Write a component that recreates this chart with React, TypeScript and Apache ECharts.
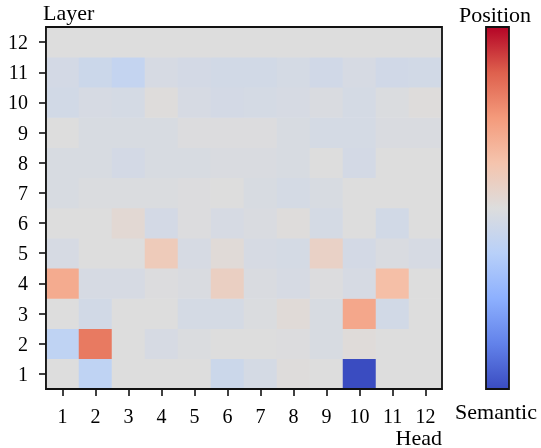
import React, { useEffect, useRef } from "react";
import * as echarts from "echarts";

const heads = ["1", "2", "3", "4", "5", "6", "7", "8", "9", "10", "11", "12"];
const layers = ["1", "2", "3", "4", "5", "6", "7", "8", "9", "10", "11", "12"];

// value per head (1..12) for each layer; negative = semantic, positive = position
const layer1 = [0.0, -0.2, 0.0, 0.0, 0.0, -0.12, -0.06, 0.01, 0.0, -1.0, 0.0, 0.0];
const layer2 = [-0.2, 0.64, 0.0, -0.05, -0.02, 0.0, 0.0, -0.01, -0.04, 0.02, 0.0, 0.0];
const layer3 = [0.0, -0.08, 0.0, 0.0, -0.06, -0.06, -0.02, 0.03, -0.04, 0.42, -0.08, 0.0];
const layer4 = [0.4, -0.05, -0.05, -0.01, -0.03, 0.14, -0.03, -0.05, -0.01, -0.05, 0.28, 0.0];
const layer5 = [-0.05, 0.0, 0.0, 0.18, -0.05, 0.03, -0.05, -0.06, 0.12, -0.07, -0.03, -0.05];
const layer6 = [0.0, 0.0, 0.05, -0.07, -0.01, -0.05, -0.03, 0.01, -0.06, 0.0, -0.08, 0.0];
const layer7 = [-0.04, -0.02, -0.02, -0.02, -0.01, 0.0, -0.04, -0.06, -0.04, 0.0, 0.0, 0.0];
const layer8 = [-0.04, -0.04, -0.07, -0.04, -0.04, -0.03, -0.03, -0.04, 0.0, -0.07, 0.0, 0.0];
const layer9 = [0.0, -0.04, -0.04, -0.04, -0.01, -0.01, -0.01, -0.04, -0.06, -0.06, -0.03, -0.03];
const layer10 = [-0.08, -0.05, -0.06, 0.01, -0.05, -0.07, -0.06, -0.05, -0.03, -0.06, -0.02, 0.01];
const layer11 = [-0.07, -0.12, -0.17, -0.05, -0.07, -0.08, -0.08, -0.06, -0.09, -0.05, -0.09, -0.08];
const layer12 = [0.0, 0.0, 0.0, 0.0, 0.0, 0.0, 0.0, 0.0, 0.0, 0.0, 0.0, 0.0];

const values = [layer1, layer2, layer3, layer4, layer5, layer6, layer7, layer8, layer9, layer10, layer11, layer12];

const coolwarm = [
  "rgb(58,76,193)",
  "rgb(98,130,234)",
  "rgb(141,176,254)",
  "rgb(184,208,249)",
  "rgb(221,221,221)",
  "rgb(245,196,173)",
  "rgb(244,154,123)",
  "rgb(222,96,77)",
  "rgb(180,4,38)",
];

const FONT = "Liberation Serif";

export default function App() {
  const ref = useRef<HTMLDivElement>(null);
  useEffect(() => {
    const chart = echarts.init(ref.current!, null, { renderer: "svg" });
    const data: number[][] = [];
    values.forEach((row, yi) => row.forEach((v, xi) => data.push([xi, yi, v])));
    const L = 46, T = 27, W = 396, H = 362;
    const cbX = 486, cbW = 23;
    const stops = coolwarm
      .slice()
      .reverse()
      .map((c, i, arr) => ({ offset: i / (arr.length - 1), color: c }));
    const labelStyle = { fontFamily: FONT, fontSize: 20, color: "#000" };
    const titleFont = `22px "${FONT}"`;
    const tickOpt = { show: true, alignWithLabel: true, length: 7, lineStyle: { color: "#000", width: 1.5 } };
    chart.setOption({
      animation: false,
      grid: { left: L, top: T, width: W, height: H },
      xAxis: {
        type: "category",
        data: heads,
        axisLine: { show: true, lineStyle: { color: "#111", width: 1.5 } },
        axisTick: tickOpt,
        axisLabel: { ...labelStyle, margin: 17 },
        splitLine: { show: false },
      },
      yAxis: {
        type: "category",
        data: layers,
        axisLine: { show: true, lineStyle: { color: "#111", width: 1.5 } },
        axisTick: tickOpt,
        axisLabel: { ...labelStyle, margin: 18 },
        splitLine: { show: false },
      },
      visualMap: {
        show: false,
        type: "continuous",
        min: -1,
        max: 1,
        dimension: 2,
        inRange: { color: coolwarm },
      },
      series: [
        {
          type: "heatmap",
          data,
          itemStyle: { borderWidth: 0 },
          emphasis: { disabled: true },
        },
      ],
      graphic: [
        {
          type: "rect",
          z: 100,
          shape: { x: L, y: T, width: W, height: H },
          style: { fill: "none", stroke: "#111", lineWidth: 1.8 },
        },
        {
          type: "rect",
          z: 100,
          shape: { x: cbX, y: T, width: cbW, height: H },
          style: {
            fill: new echarts.graphic.LinearGradient(0, 0, 0, 1, stops),
            stroke: "#111",
            lineWidth: 1.8,
          },
        },
        {
          type: "text",
          z: 100,
          x: 43,
          y: 12,
          style: { text: "Layer", font: titleFont, fill: "#000", align: "left", verticalAlign: "middle" },
        },
        {
          type: "text",
          z: 100,
          x: 442,
          y: 437,
          style: { text: "Head", font: titleFont, fill: "#000", align: "right", verticalAlign: "middle" },
        },
        {
          type: "text",
          z: 100,
          x: 495,
          y: 14,
          style: { text: "Position", font: titleFont, fill: "#000", align: "center", verticalAlign: "middle" },
        },
        {
          type: "text",
          z: 100,
          x: 496,
          y: 411,
          style: { text: "Semantic", font: titleFont, fill: "#000", align: "center", verticalAlign: "middle" },
        },
      ],
    });
    return () => chart.dispose();
  }, []);
  return <div ref={ref} style={{ position: "fixed", left: 0, top: 0, width: 541, height: 448 }} />;
}
